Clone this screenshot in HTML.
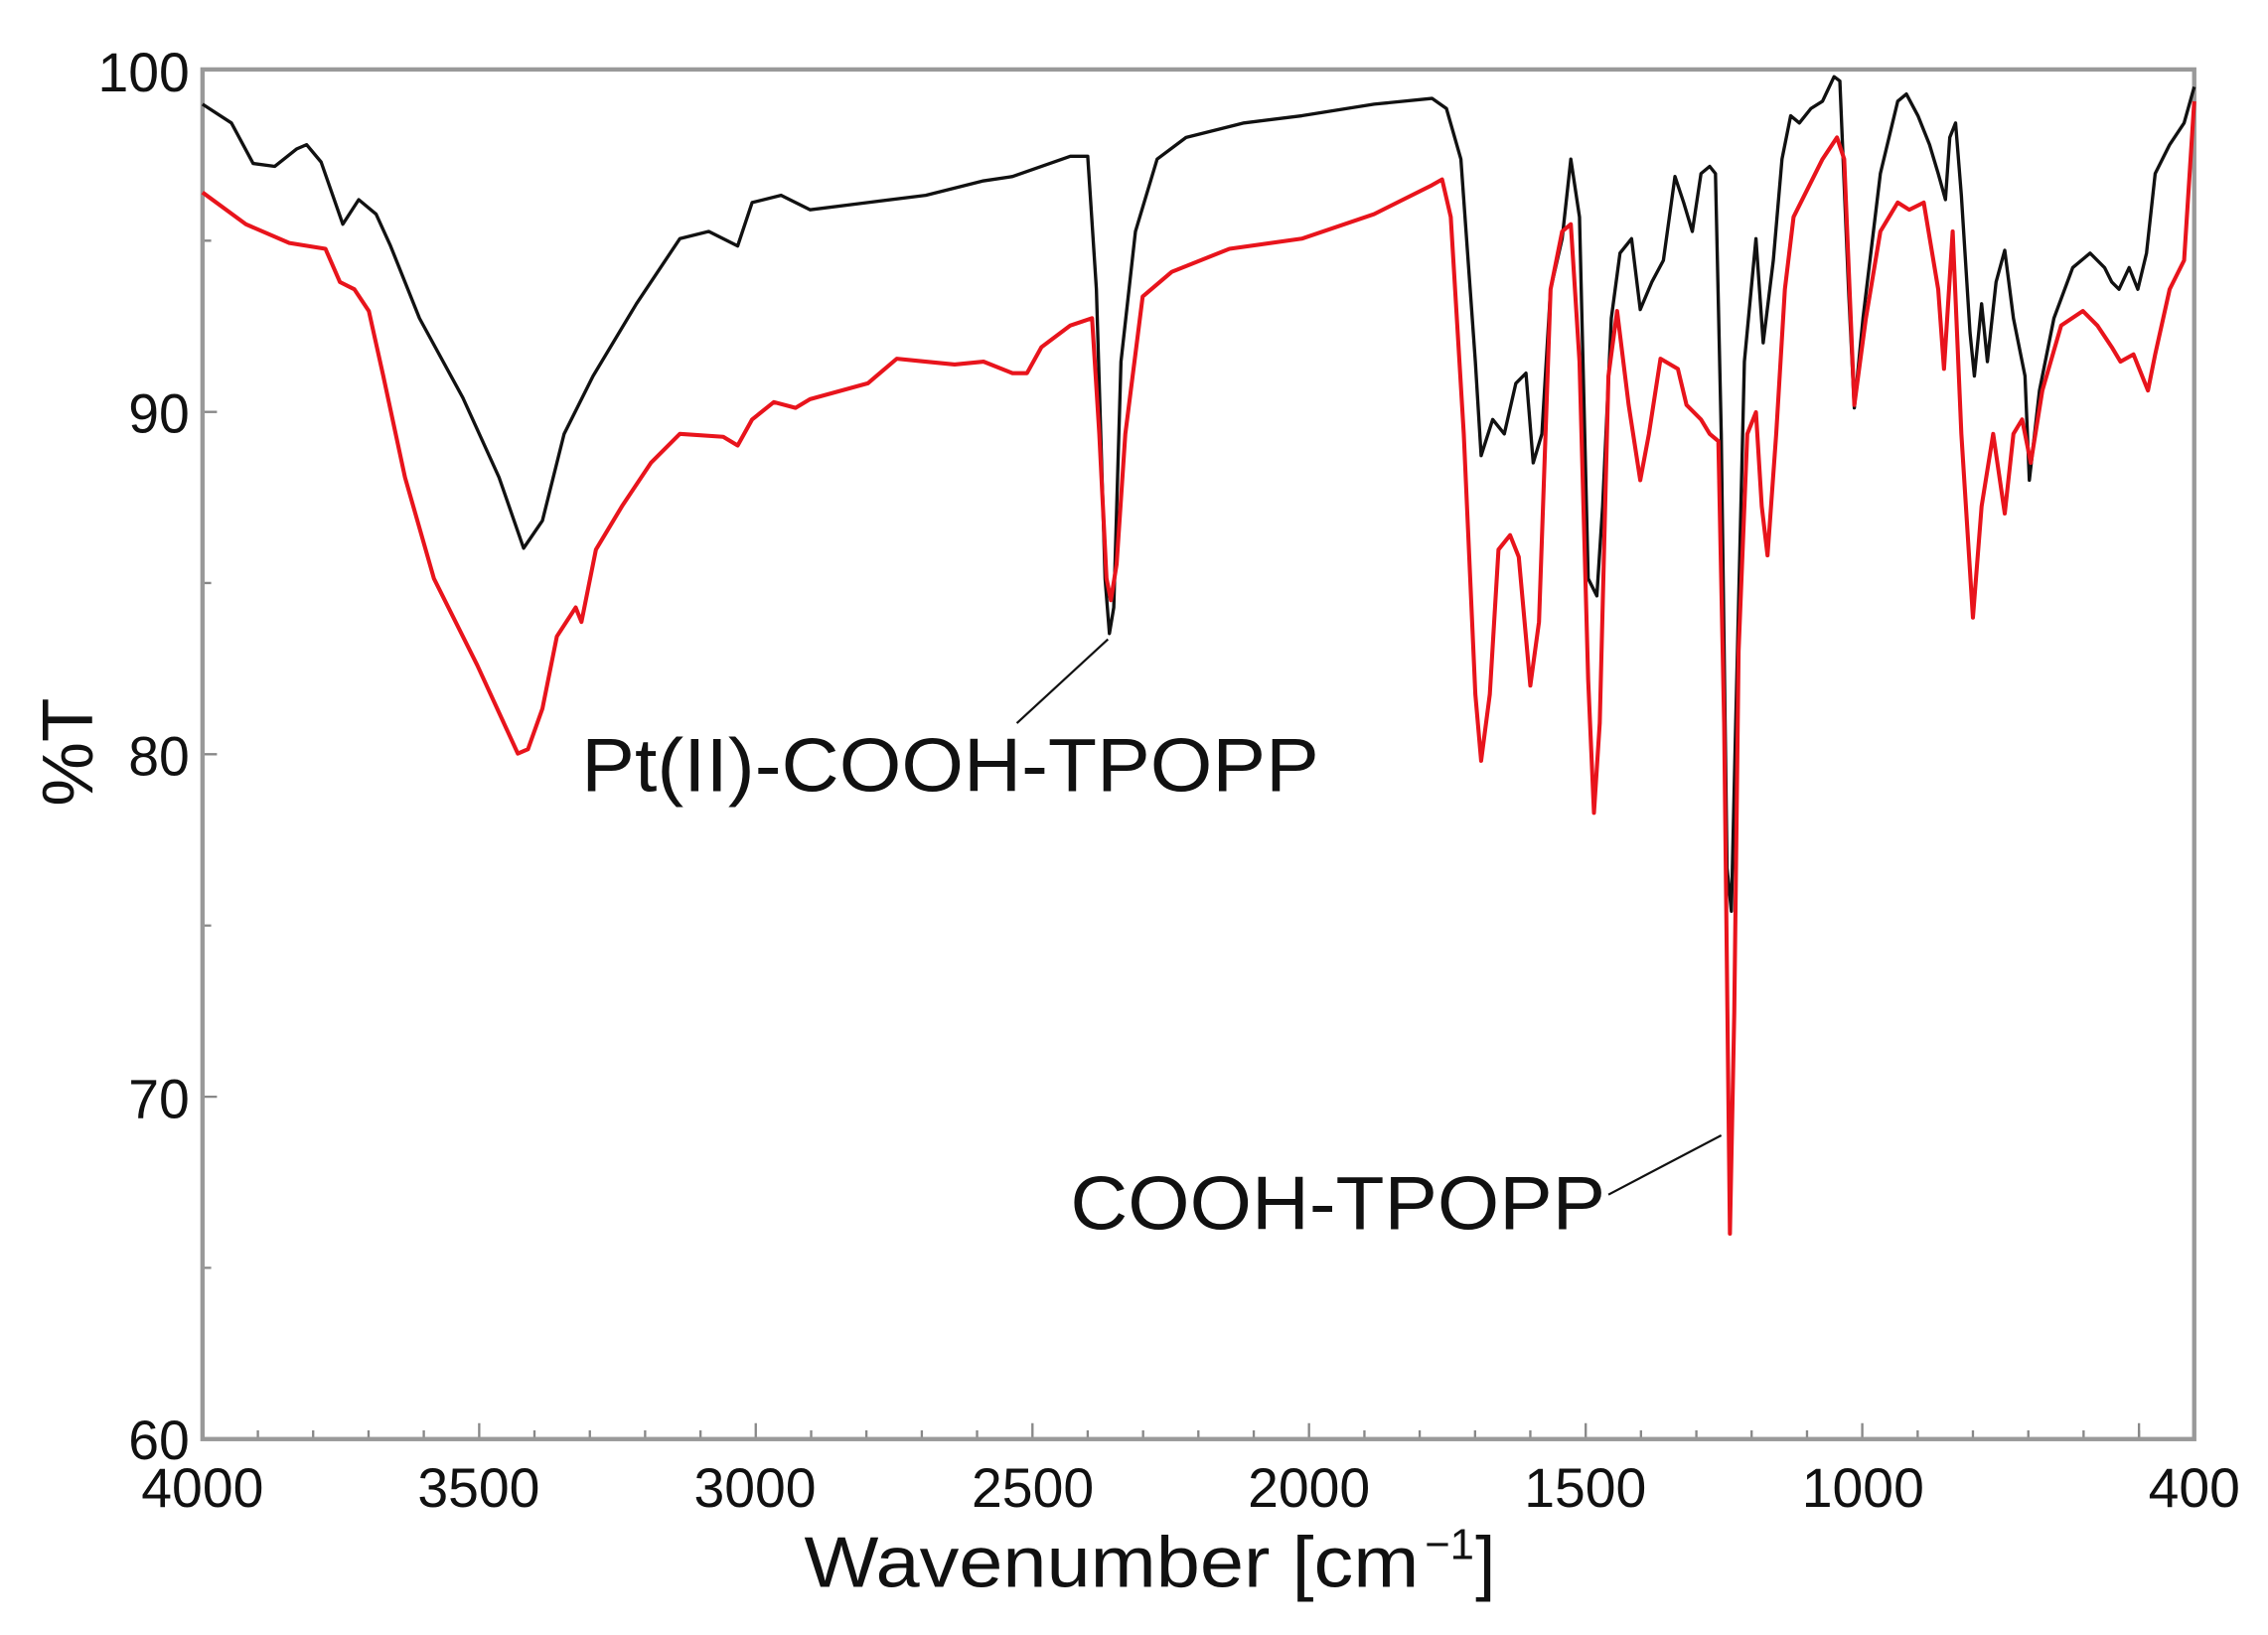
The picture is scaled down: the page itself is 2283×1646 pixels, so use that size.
<!DOCTYPE html>
<html><head><meta charset="utf-8"><style>html,body{margin:0;padding:0;background:#fff}</style></head>
<body>
<svg width="2283" height="1641" viewBox="0 0 1568 1127" xmlns="http://www.w3.org/2000/svg" font-family="Liberation Sans, sans-serif">
<rect width="1568" height="1127" fill="#fff"/>
<g stroke="#888" stroke-width="1.6">
<path d="M178.3 995v-6M216.5 995v-6M254.8 995v-6M293 995v-6M369.5 995v-6M407.8 995v-6M446 995v-6M484.3 995v-6M560.8 995v-6M599 995v-6M637.3 995v-6M675.5 995v-6M752 995v-6M790.3 995v-6M828.5 995v-6M866.8 995v-6M943.3 995v-6M981.5 995v-6M1019.8 995v-6M1058 995v-6M1134.5 995v-6M1172.8 995v-6M1211 995v-6M1249.3 995v-6M1325.8 995v-6M1364 995v-6M1402.3 995v-6M1440.5 995v-6M1478.8 995v-6"/>
<path d="M331.3 995v-11M522.5 995v-11M713.8 995v-11M905 995v-11M1096.3 995v-11M1287.5 995v-11M1478.8 995v-11"/>
<path d="M140 166.4h6M140 403.1h6M140 639.9h6M140 876.6h6M140 284.8h10M140 521.5h10M140 758.3h10"/>
</g>
<rect x="140" y="48" width="1377" height="947" fill="none" stroke="#999" stroke-width="3"/>
<g font-size="38" fill="#111" text-anchor="end">
<text x="131" y="63">100</text><text x="131" y="299">90</text><text x="131" y="536">80</text><text x="131" y="773">70</text><text x="131" y="1009">60</text>
</g>
<g font-size="38" fill="#111" text-anchor="middle">
<text x="140" y="1042">4000</text><text x="331" y="1042">3500</text><text x="522" y="1042">3000</text><text x="714" y="1042">2500</text><text x="905" y="1042">2000</text><text x="1096" y="1042">1500</text><text x="1288" y="1042">1000</text><text x="1517" y="1042">400</text>
</g>
<text x="556" y="1097" font-size="50" fill="#111" textLength="425" lengthAdjust="spacingAndGlyphs">Wavenumber [cm</text>
<text x="985" y="1078" font-size="30" fill="#111">−1</text>
<text x="1020" y="1097" font-size="50" fill="#111">]</text>
<text transform="translate(64,520) rotate(-90)" font-size="50" text-anchor="middle" fill="#111">%T</text>
<polyline fill="none" stroke="#111" stroke-width="2.3" stroke-linejoin="round" points="140,72 160,85 175,113 190,115 205,103 212,100 222,112 237,155 248,138 260,148 270,170 290,220 320,275 345,330 362,379 375,360 390,300 410,260 440,210 470,165 490,160 510,170 520,140 540,135 560,145 600,140 640,135 680,125 700,122 740,108 752,108 758,200 764,400 767,438 770,420 775,250 785,160 800,110 820,95 860,85 900,80 950,72 990,68 1000,75 1010,110 1020,250 1024,315 1032,290 1040,300 1048,265 1055,258 1060,320 1066,300 1072,200 1080,165 1086,110 1092,150 1098,400 1104,412 1108,350 1114,220 1120,175 1128,165 1134,214 1142,195 1150,180 1158,122 1164,140 1170,160 1176,120 1182,115 1186,120 1190,300 1194,600 1197,630 1200,500 1206,250 1214,165 1219,237 1226,180 1232,110 1238,80 1244,85 1252,75 1260,70 1268,53 1272,56 1278,200 1282,282 1288,220 1300,120 1312,70 1318,65 1326,80 1334,100 1340,120 1345,138 1348,95 1352,85 1356,135 1362,230 1365,260 1370,210 1374,250 1380,195 1386,173 1392,220 1400,260 1403,332 1410,270 1420,220 1433,185 1445,175 1455,185 1460,195 1465,200 1472,185 1478,200 1484,175 1490,120 1500,100 1510,85 1517,60"/>
<polyline fill="none" stroke="#e8141c" stroke-width="2.8" stroke-linejoin="round" points="140,133 170,155 200,168 225,172 235,195 245,200 255,215 265,260 280,330 300,400 330,460 358,521 365,518 375,490 385,440 398,420 402,430 412,380 430,350 450,320 470,300 500,302 510,308 520,290 535,278 550,282 560,276 600,265 620,248 640,250 660,252 680,250 700,258 710,258 720,240 740,225 755,220 760,300 765,400 768,415 772,390 778,300 790,205 810,188 850,172 900,165 950,148 990,128 997,124 1003,150 1012,300 1020,480 1024,526 1030,480 1036,380 1044,370 1050,385 1058,474 1064,430 1072,200 1080,160 1086,155 1092,250 1098,470 1102,562 1106,500 1112,260 1118,215 1126,280 1134,332 1140,300 1148,248 1160,255 1166,280 1176,290 1182,300 1188,305 1192,500 1196,853 1199,700 1202,450 1208,300 1214,285 1218,350 1222,384 1228,300 1234,200 1240,150 1250,130 1260,110 1270,95 1275,110 1282,280 1290,220 1300,160 1312,140 1320,145 1330,140 1340,200 1344,255 1350,160 1356,300 1364,427 1370,350 1378,300 1386,355 1392,300 1398,290 1404,320 1412,270 1425,225 1440,215 1450,225 1460,240 1466,250 1475,245 1485,270 1490,245 1500,200 1510,180 1517,70"/>
<g stroke="#111" stroke-width="1.5"><line x1="703" y1="500" x2="766" y2="442"/><line x1="1112" y1="826" x2="1190" y2="785"/></g>
<g font-size="52" fill="#111"><text x="402" y="547" textLength="510" lengthAdjust="spacingAndGlyphs">Pt(II)-COOH-TPOPP</text><text x="740" y="850" textLength="370" lengthAdjust="spacingAndGlyphs">COOH-TPOPP</text></g>
</svg>
</body></html>
